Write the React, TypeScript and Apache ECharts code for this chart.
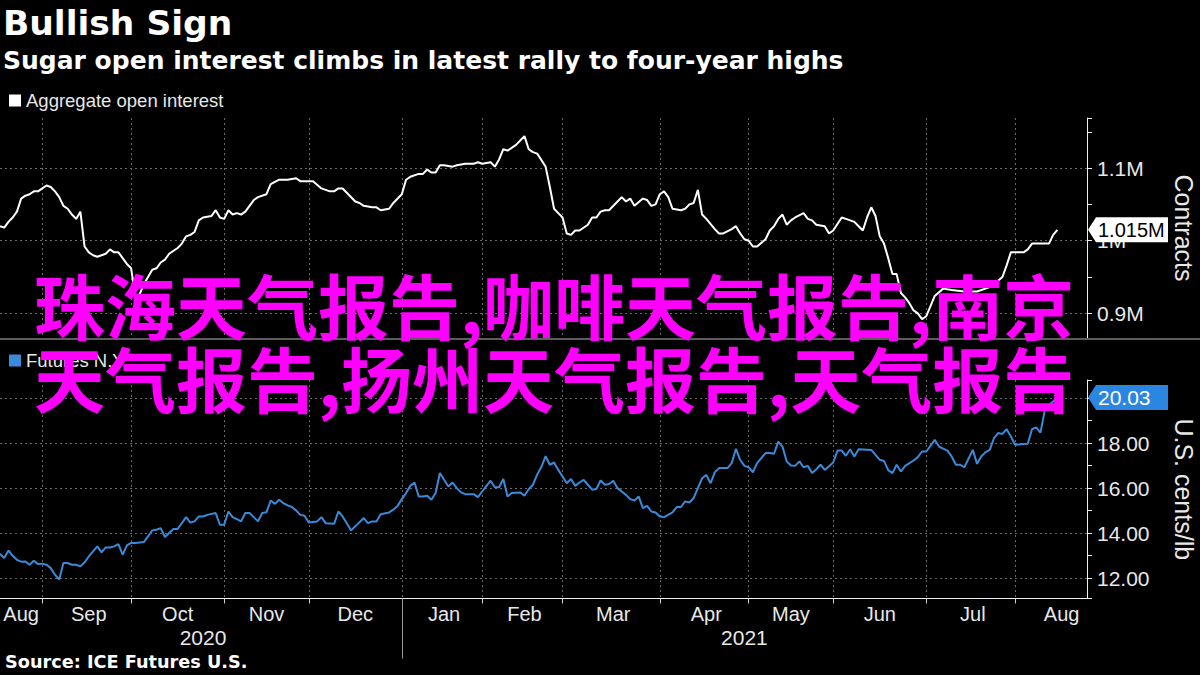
import React, { useEffect, useRef } from 'react';
import * as echarts from 'echarts';

// ---------- texts ----------
const titleText = 'Bullish Sign';
const subtitleText = 'Sugar open interest climbs in latest rally to four-year highs';
const sourceText = 'Source: ICE Futures U.S.';
const openInterestName = 'Aggregate open interest';
const futuresName = 'Futures N.Y.';
const openInterestAxisName = 'Contracts';
const futuresAxisName = 'U.S. cents/lb';
const watermarkLines = ['珠海天气报告,咖啡天气报告,南京', '天气报告,扬州天气报告,天气报告'];
const monthNames = ['Jan', 'Feb', 'Mar', 'Apr', 'May', 'Jun', 'Jul', 'Aug', 'Sep', 'Oct', 'Nov', 'Dec'];

// ---------- trading calendar (categories) ----------
const firstTradingDay = '2020-08-18';
const lastAxisDay = '2021-08-25';
const lastCalendarDay = '2021-08-31';
const marketHolidays = [
  '2020-09-07', '2020-11-26', '2020-12-25', '2021-01-01', '2021-01-18',
  '2021-02-15', '2021-04-02', '2021-05-31', '2021-07-05',
];

// ---------- series values: [trading-day index, value] ----------
// Aggregate open interest, million contracts
const openInterest: [number, number][] = [
  [0, 1.020], [1, 1.018], [2, 1.026], [3, 1.032], [4, 1.040], [5, 1.058], [6, 1.062], [7, 1.064],
  [8, 1.068], [9, 1.068], [10, 1.072], [11, 1.076], [12, 1.074], [13, 1.068], [14, 1.060], [15, 1.048],
  [16, 1.044], [17, 1.036], [18, 1.030], [19, 1.040], [20, 0.992], [21, 0.984], [22, 0.980], [23, 0.978],
  [24, 0.980], [25, 0.982], [26, 0.988], [27, 0.984], [28, 0.984], [29, 0.976], [30, 0.968], [31, 0.962],
  [32, 0.924], [33, 0.926], [34, 0.940], [35, 0.950], [36, 0.960], [37, 0.962], [38, 0.970], [39, 0.974],
  [40, 0.982], [42, 0.990], [43, 0.996], [44, 1.006], [45, 1.008], [46, 1.012], [47, 1.028], [48, 1.032],
  [50, 1.034], [51, 1.042], [52, 1.032], [53, 1.030], [54, 1.042], [55, 1.036], [56, 1.038], [57, 1.036],
  [58, 1.040], [59, 1.048], [60, 1.056], [61, 1.060], [63, 1.064], [64, 1.078], [66, 1.084], [68, 1.084],
  [70, 1.086], [71, 1.082], [72, 1.082], [74, 1.082], [76, 1.072], [77, 1.070], [78, 1.068], [79, 1.068],
  [80, 1.072], [81, 1.072], [82, 1.066], [84, 1.054], [85, 1.052], [86, 1.048], [88, 1.046], [89, 1.046],
  [90, 1.042], [92, 1.044], [93, 1.052], [95, 1.064], [96, 1.084], [97, 1.088], [99, 1.092], [100, 1.092],
  [101, 1.098], [102, 1.094], [103, 1.094], [104, 1.104], [105, 1.104], [107, 1.102], [108, 1.104], [110, 1.106],
  [112, 1.106], [113, 1.108], [114, 1.106], [116, 1.108], [117, 1.102], [118, 1.112], [119, 1.126], [120, 1.124],
  [122, 1.132], [123, 1.138], [124, 1.144], [125, 1.126], [126, 1.122], [127, 1.120], [129, 1.102], [130, 1.074],
  [131, 1.044], [132, 1.038], [133, 1.032], [134, 1.010], [135, 1.008], [136, 1.014], [137, 1.014], [139, 1.022],
  [140, 1.032], [141, 1.032], [142, 1.040], [143, 1.042], [144, 1.042], [146, 1.054], [147, 1.060], [148, 1.054],
  [149, 1.058], [150, 1.048], [152, 1.058], [153, 1.056], [154, 1.048], [155, 1.050], [156, 1.064], [157, 1.068],
  [158, 1.060], [159, 1.044], [161, 1.042], [162, 1.044], [163, 1.050], [164, 1.052], [165, 1.070], [166, 1.036],
  [167, 1.030], [169, 1.016], [170, 1.010], [171, 1.010], [173, 1.016], [174, 1.020], [175, 1.010], [176, 1.002],
  [177, 1.000], [178, 0.992], [179, 0.992], [181, 1.002], [182, 1.014], [183, 1.020], [184, 1.030], [185, 1.036],
  [186, 1.022], [187, 1.028], [188, 1.032], [190, 1.038], [191, 1.030], [192, 1.028], [193, 1.022], [195, 1.020],
  [196, 1.010], [197, 1.014], [199, 1.032], [200, 1.030], [202, 1.026], [203, 1.020], [204, 1.014], [205, 1.032],
  [206, 1.046], [207, 1.034], [208, 1.006], [209, 0.996], [210, 0.976], [211, 0.954], [212, 0.954], [213, 0.928],
  [214, 0.922], [215, 0.914], [216, 0.904], [217, 0.900], [218, 0.892], [219, 0.896], [220, 0.910], [221, 0.924],
  [223, 0.934], [225, 0.932], [228, 0.930], [231, 0.930], [234, 0.936], [235, 0.940], [237, 0.950], [238, 0.966],
  [239, 0.984], [240, 0.984], [242, 0.984], [243, 0.988], [244, 0.996], [246, 0.996], [247, 0.996], [248, 0.996],
  [249, 1.008], [250, 1.015],
];

// Sugar No. 11 futures, U.S. cents per pound
const futuresPrice: [number, number][] = [
  [0, 13.08], [1, 12.89], [2, 13.23], [3, 12.99], [4, 12.81], [5, 12.73], [6, 12.74], [7, 12.59],
  [8, 12.77], [9, 12.62], [10, 12.64], [11, 12.59], [12, 12.44], [13, 12.15], [14, 11.93], [15, 12.67],
  [16, 12.67], [17, 12.59], [18, 12.59], [19, 12.52], [20, 12.70], [21, 12.96], [22, 13.19], [23, 13.41],
  [24, 13.14], [25, 13.36], [26, 13.36], [27, 13.41], [28, 13.51], [29, 13.04], [30, 13.45], [31, 13.56],
  [32, 13.56], [34, 13.60], [35, 13.85], [36, 14.12], [37, 14.15], [38, 14.22], [39, 13.82], [40, 14.00],
  [41, 14.18], [42, 14.18], [44, 14.71], [45, 14.47], [46, 14.52], [47, 14.74], [48, 14.74], [49, 14.81],
  [51, 14.89], [52, 14.37], [53, 14.37], [54, 14.96], [55, 14.71], [56, 14.62], [57, 14.52], [58, 14.89],
  [59, 14.89], [60, 14.71], [61, 14.52], [62, 14.89], [63, 14.93], [64, 15.45], [65, 15.30], [66, 15.48],
  [67, 15.33], [68, 15.23], [69, 15.16], [70, 15.01], [71, 14.81], [72, 14.77], [73, 14.47], [75, 14.52],
  [76, 14.71], [77, 14.44], [79, 14.41], [80, 14.96], [81, 14.74], [82, 14.44], [83, 14.12], [84, 14.30],
  [86, 14.67], [87, 14.44], [88, 14.52], [89, 14.52], [90, 14.84], [92, 14.92], [93, 15.04], [94, 15.21],
  [95, 15.51], [96, 15.78], [97, 16.10], [98, 16.25], [99, 15.63], [100, 15.63], [101, 15.66], [102, 15.48],
  [103, 15.78], [104, 16.67], [105, 16.37], [106, 16.07], [107, 16.25], [108, 16.00], [109, 15.81], [110, 15.73],
  [112, 15.73], [113, 15.60], [114, 15.85], [116, 16.33], [117, 16.04], [118, 16.04], [119, 16.41], [120, 15.63],
  [121, 15.78], [123, 15.81], [124, 15.66], [125, 15.95], [126, 16.15], [127, 16.60], [128, 16.95], [129, 17.42],
  [130, 17.04], [131, 17.14], [132, 16.81], [133, 16.52], [134, 16.22], [135, 16.41], [136, 16.10], [137, 16.25],
  [138, 16.37], [139, 16.15], [140, 15.93], [141, 15.96], [142, 16.34], [143, 16.15], [144, 16.18], [145, 16.33],
  [146, 16.00], [147, 15.85], [148, 15.70], [149, 15.51], [150, 15.45], [151, 15.63], [152, 15.11], [153, 15.21],
  [154, 14.96], [155, 14.92], [156, 14.74], [157, 14.71], [159, 14.92], [160, 15.16], [161, 15.16], [162, 15.41],
  [163, 15.36], [164, 15.56], [165, 16.00], [166, 16.44], [167, 16.59], [168, 16.22], [169, 16.70], [170, 16.89],
  [172, 16.89], [173, 17.11], [174, 17.75], [175, 17.26], [176, 16.99], [177, 16.93], [178, 16.70], [179, 17.11],
  [181, 17.56], [182, 17.56], [183, 17.53], [184, 18.07], [185, 17.85], [186, 17.19], [187, 17.01], [188, 16.99],
  [189, 17.19], [190, 16.93], [191, 16.99], [192, 16.67], [193, 16.84], [194, 17.04], [195, 16.81], [197, 17.14],
  [198, 17.67], [199, 17.67], [200, 17.44], [201, 17.73], [202, 17.41], [203, 17.73], [206, 17.70], [207, 17.48],
  [208, 17.26], [209, 17.21], [210, 16.80], [211, 16.67], [212, 17.04], [213, 16.74], [214, 16.99], [216, 17.23],
  [217, 17.38], [218, 17.63], [219, 17.63], [220, 17.88], [221, 18.15], [222, 17.85], [224, 17.67], [225, 17.41],
  [226, 17.04], [227, 17.04], [228, 16.93], [230, 17.70], [231, 17.08], [232, 17.41], [233, 17.60], [234, 17.70],
  [235, 18.22], [236, 18.45], [237, 18.41], [238, 18.62], [239, 18.30], [240, 17.93], [242, 17.96], [243, 17.97],
  [244, 18.62], [245, 18.70], [246, 18.47], [247, 19.45], [248, 19.70], [249, 19.85], [250, 20.03],
];

// axis ranges
const openInterestMin = 0.866;
const openInterestMax = 1.169;
const futuresMin = 11.09;
const futuresMax = 20.81;

// ---------- styles ----------
const REG = "'Liberation Sans', Arial, sans-serif";
const BOLD = "'DejaVu Sans', sans-serif";
const TEXT = '#e8e8e8';
const GRIDLINE = '#6a6a6a';
const BLUE = '#3b8ad9';
const BLUE_BOX = '#2b86e2';
const MAGENTA = '#ff00ff';

function tradingDays(from: string, to: string): string[] {
  const out: string[] = [];
  const d = new Date(from + 'T00:00:00Z');
  const end = new Date(to + 'T00:00:00Z');
  while (d.getTime() <= end.getTime()) {
    const wd = d.getUTCDay();
    const s = d.toISOString().slice(0, 10);
    if (wd !== 0 && wd !== 6 && !marketHolidays.includes(s)) out.push(s);
    d.setUTCDate(d.getUTCDate() + 1);
  }
  return out;
}

function buildOption() {
  const allDays = tradingDays(firstTradingDay, lastCalendarDay);
  const categories = allDays.filter((d) => d <= lastAxisDay);
  const lastIdx = categories.length - 1;

  // month groups
  const monthStarts: number[] = [];
  allDays.forEach((d, i) => {
    if (i === 0 || d.slice(0, 7) !== allDays[i - 1].slice(0, 7)) monthStarts.push(i);
  });
  const monthTicks = new Set(monthStarts.filter((i) => i > 0 && i <= lastIdx));
  const monthLabels = new Set<number>();
  monthStarts.forEach((s, k) => {
    const e = k + 1 < monthStarts.length ? monthStarts[k + 1] : allDays.length;
    const m = Math.round((s + e) / 2);
    if (m <= lastIdx) monthLabels.add(m);
  });
  // year groups
  const yearStarts: number[] = [];
  categories.forEach((d, i) => {
    if (i === 0 || d.slice(0, 4) !== categories[i - 1].slice(0, 4)) yearStarts.push(i);
  });
  const yearTicks = new Set(yearStarts.filter((i) => i > 0));
  const yearLabels = new Set<number>();
  yearStarts.forEach((s, k) => {
    const e = k + 1 < yearStarts.length ? yearStarts[k + 1] : lastIdx;
    yearLabels.add(Math.round((s + e) / 2));
  });

  const dotted = { color: GRIDLINE, width: 1, type: [2, 3] as number[] };
  const oiLast = openInterest[openInterest.length - 1][1];
  const fpLast = futuresPrice[futuresPrice.length - 1][1];

  const valueLabel = { color: TEXT, fontSize: 21, fontFamily: REG, margin: 10 };

  return {
    animation: false,
    backgroundColor: '#000',
    textStyle: { fontFamily: REG },
    title: [
      { text: titleText, left: 3, top: 5, padding: 0, textStyle: { color: '#fff', fontSize: 34.5, fontWeight: 'bold', fontFamily: BOLD } },
      { text: subtitleText, left: 3, top: 48, padding: 0, textStyle: { color: '#fff', fontSize: 25, fontWeight: 'bold', fontFamily: BOLD } },
      { text: sourceText, left: 5, top: 653, padding: 0, textStyle: { color: '#fff', fontSize: 17.7, fontWeight: 'bold', fontFamily: BOLD } },
    ],
    legend: [
      {
        data: [openInterestName], left: 9, top: 91, padding: 0, icon: 'rect', itemWidth: 12, itemHeight: 12,
        selectedMode: false, textStyle: { color: TEXT, fontSize: 18.5, fontFamily: REG },
      },
      {
        data: [futuresName], left: 9, top: 351, padding: 0, icon: 'rect', itemWidth: 12, itemHeight: 12,
        selectedMode: false, textStyle: { color: TEXT, fontSize: 18.5, fontFamily: REG },
      },
    ],
    grid: [
      { left: 0, right: 113, top: 118, height: 220, containLabel: false, outerBoundsMode: 'none' },
      { left: 0, right: 113, top: 380, height: 218.5, containLabel: false, outerBoundsMode: 'none' },
    ],
    xAxis: [
      {
        type: 'category', gridIndex: 0, data: categories, boundaryGap: false,
        axisLine: { show: false }, axisTick: { show: false }, axisLabel: { show: false },
        splitLine: { show: true, interval: (i: number) => monthTicks.has(i), lineStyle: dotted },
      },
      {
        type: 'category', gridIndex: 1, data: categories, boundaryGap: false,
        axisLine: { show: true, lineStyle: { color: '#f0f0f0', width: 1 } },
        axisTick: { show: true, interval: (i: number) => monthTicks.has(i), length: 5, lineStyle: { color: '#cfcfcf' } },
        axisLabel: {
          show: true, interval: (i: number) => monthLabels.has(i), margin: 5,
          color: TEXT, fontSize: 20, fontFamily: REG,
          formatter: (v: string) => monthNames[Number(v.slice(5, 7)) - 1],
        },
        splitLine: { show: true, interval: (i: number) => monthTicks.has(i), lineStyle: dotted },
      },
      {
        type: 'category', gridIndex: 1, data: categories, boundaryGap: false, position: 'bottom',
        axisLine: { show: false },
        axisTick: { show: true, interval: (i: number) => yearTicks.has(i), length: 60, lineStyle: { color: '#9a9a9a' } },
        axisLabel: {
          show: true, interval: (i: number) => yearLabels.has(i), margin: 28,
          color: TEXT, fontSize: 21, fontFamily: REG,
          formatter: (v: string) => v.slice(0, 4),
        },
        splitLine: { show: false },
      },
    ],
    yAxis: [
      {
        type: 'value', gridIndex: 0, position: 'right', min: openInterestMin, max: openInterestMax, splitNumber: 3,
        axisLine: { show: true, lineStyle: { color: '#f0f0f0', width: 1 } },
        axisTick: { show: false },
        axisLabel: {
          ...valueLabel,
          formatter: (v: number) => {
            const r = Math.round(v * 10) / 10;
            return Math.abs(v - r) > 1e-6 ? '' : `${r}M`;
          },
        },
        splitLine: { show: true, showMinLine: false, showMaxLine: false, lineStyle: dotted },
        name: openInterestAxisName, nameLocation: 'middle', nameRotate: -90, nameGap: 84,
        nameTextStyle: { color: TEXT, fontSize: 25, fontFamily: REG },
      },
      {
        type: 'value', gridIndex: 0, position: 'right', min: openInterestMin, max: openInterestMax, splitNumber: 6,
        axisLine: { show: false }, axisLabel: { show: false }, splitLine: { show: false },
        axisTick: { show: true, length: 5, lineStyle: { color: '#f0f0f0' } },
      },
      {
        type: 'value', gridIndex: 1, position: 'right', min: futuresMin, max: futuresMax, splitNumber: 5,
        axisLine: { show: true, lineStyle: { color: '#f0f0f0', width: 1 } },
        axisTick: { show: false },
        axisLabel: {
          ...valueLabel,
          formatter: (v: number) => (Math.abs(v - Math.round(v)) > 1e-6 ? '' : v.toFixed(2)),
        },
        splitLine: { show: true, showMinLine: false, showMaxLine: false, lineStyle: dotted },
        name: futuresAxisName, nameLocation: 'middle', nameRotate: -90, nameGap: 84,
        nameTextStyle: { color: TEXT, fontSize: 25, fontFamily: REG },
      },
      {
        type: 'value', gridIndex: 1, position: 'right', min: futuresMin, max: futuresMax, splitNumber: 10,
        axisLine: { show: false }, axisLabel: { show: false }, splitLine: { show: false },
        axisTick: { show: true, length: 5, lineStyle: { color: '#f0f0f0' } },
      },
    ],
    series: [
      {
        name: openInterestName, type: 'line', xAxisIndex: 0, yAxisIndex: 0, data: openInterest,
        symbol: 'none', clip: false, color: '#ffffff', lineStyle: { color: '#ffffff', width: 2 }, z: 3,
        markPoint: {
          symbol: 'path://M0,12.5L8,0L80,0L80,25L8,25Z', symbolSize: [80, 25], symbolOffset: [41, 0],
          itemStyle: { color: '#ffffff' },
          label: {
            show: true, position: 'insideLeft', distance: 10, color: '#000', fontSize: 20, fontFamily: REG,
            formatter: () => `${oiLast.toFixed(3)}M`,
          },
          data: [{ coord: [categories[lastIdx], oiLast], value: oiLast }],
        },
      },
      {
        name: futuresName, type: 'line', xAxisIndex: 1, yAxisIndex: 2, data: futuresPrice,
        symbol: 'none', clip: false, color: BLUE, lineStyle: { color: BLUE, width: 2 }, z: 3,
        markPoint: {
          symbol: 'path://M0,12.5L8,0L80,0L80,25L8,25Z', symbolSize: [80, 25], symbolOffset: [41, 0],
          itemStyle: { color: BLUE_BOX },
          label: {
            show: true, position: 'insideLeft', distance: 10, color: '#fff', fontSize: 21, fontFamily: REG,
            formatter: () => fpLast.toFixed(2),
          },
          data: [{ coord: [categories[lastIdx], fpLast], value: fpLast }],
        },
      },
    ],
    graphic: [
      { type: 'rect', z: 1, shape: { x: 0, y: 338, width: 1200, height: 2 }, style: { fill: '#5c5c5c' } },
      {
        type: 'text', z: 100, x: 34, y: 266,
        style: {
          text: watermarkLines.join('\n'), fill: MAGENTA, fontSize: 71, fontWeight: 'bold',
          fontFamily: "'Noto Sans CJK SC', sans-serif", lineHeight: 73, verticalAlign: 'top',
        },
      },
    ],
  };
}

export default function App() {
  const ref = useRef<HTMLDivElement>(null);
  useEffect(() => {
    if (!ref.current) return;
    const chart = echarts.init(ref.current, null, { renderer: 'svg' });
    chart.setOption(buildOption() as any);
    return () => chart.dispose();
  }, []);
  return (
    <div
      ref={ref}
      style={{ position: 'fixed', left: 0, top: 0, width: 1200, height: 675, background: '#000' }}
    />
  );
}
